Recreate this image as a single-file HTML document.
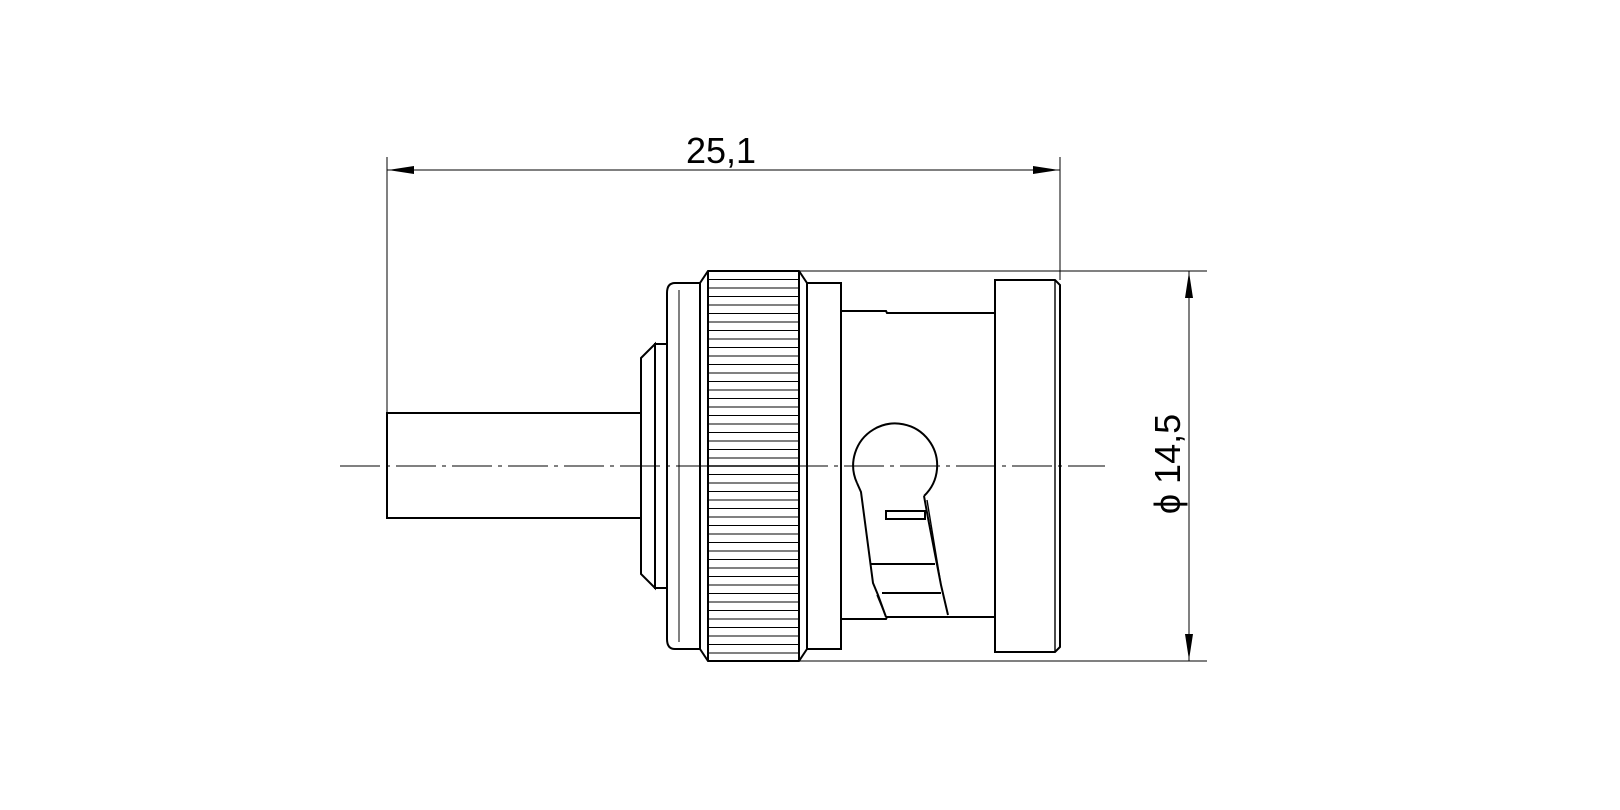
<!DOCTYPE html>
<html><head><style>html,body{margin:0;padding:0;background:#fff}svg{display:block}</style></head>
<body>
<svg width="1620" height="810" viewBox="0 0 1620 810" xmlns="http://www.w3.org/2000/svg">
<g fill="none" stroke="#000" stroke-width="1.4">
<!-- dimension top -->
<line x1="387" y1="157" x2="387" y2="413" stroke-width="1"/>
<line x1="1060" y1="157" x2="1060" y2="280" stroke-width="1"/>
<line x1="387" y1="170" x2="1060" y2="170" stroke-width="1"/>
<!-- right dimension -->
<line x1="800" y1="271" x2="1207" y2="271" stroke-width="1"/>
<line x1="800" y1="661" x2="1207" y2="661" stroke-width="1"/>
<line x1="1189" y1="271" x2="1189" y2="661" stroke-width="1"/>
<!-- cable -->
<polyline points="641,413 387,413 387,518 641,518" stroke-width="2"/>
<!-- chamfered piece -->
<polygon points="641,358 655,344 655,588 641,574" stroke-width="2"/>
<rect x="655" y="344" width="12" height="244" stroke-width="2"/>
<!-- rounded flange -->
<path d="M700,283 L675,283 Q667,283 667,293 L667,639 Q667,649 675,649 L700,649 Z" stroke-width="2"/>
<line x1="679" y1="290" x2="679" y2="642" stroke-width="1"/>
<!-- nut -->
<polygon points="708,271 799,271 807,283 807,649 799,661 708,661 700,649 700,283" stroke-width="2"/>
<line x1="708" y1="271" x2="708" y2="661" stroke-width="2"/>
<line x1="799" y1="271" x2="799" y2="661" stroke-width="2"/>
<!-- flange after nut -->
<rect x="807" y="283" width="34" height="366" stroke-width="2"/>
<!-- body -->
<polyline points="841,311 886,311 887,313 995,313" stroke-width="2"/>
<polyline points="841,619 886,619 887,617 995,617" stroke-width="2"/>
<!-- end ring -->
<path d="M995,280 L1055,280 L1060,285 L1060,647 L1055,652 L995,652 Z" stroke-width="2"/>
<line x1="1055" y1="280" x2="1055" y2="652" stroke-width="1.4"/>
<!-- bayonet slot -->
<path d="M857,483 A42,42 0 1 1 924,496" stroke-width="2"/>
<polyline points="857,483 861,492 873,583 878,595 886,617" stroke-width="2"/>
<polyline points="924,496 928,518 941,585 948,615" stroke-width="2"/>
<line x1="927" y1="500" x2="941" y2="585" stroke-width="1.4"/>
<line x1="870" y1="564" x2="935" y2="564" stroke-width="2"/>
<line x1="882" y1="593" x2="941" y2="593" stroke-width="2"/>
<line x1="877" y1="595" x2="886" y2="617" stroke-width="1.4"/>
<rect x="886" y="511" width="39" height="8" stroke-width="2"/>
<!-- centerline -->
<line x1="340" y1="466" x2="1105" y2="466" stroke-width="1" stroke-dasharray="40,6,4,6"/>
</g>
<!-- knurl lines -->
<g stroke="#000" stroke-width="1">
<line x1="708" y1="279.5" x2="799" y2="279.5"/><line x1="708" y1="288" x2="799" y2="288"/><line x1="708" y1="296.5" x2="799" y2="296.5"/><line x1="708" y1="305" x2="799" y2="305"/><line x1="708" y1="313.5" x2="799" y2="313.5"/><line x1="708" y1="322" x2="799" y2="322"/><line x1="708" y1="330.5" x2="799" y2="330.5"/><line x1="708" y1="339" x2="799" y2="339"/><line x1="708" y1="347.5" x2="799" y2="347.5"/><line x1="708" y1="356" x2="799" y2="356"/><line x1="708" y1="364.5" x2="799" y2="364.5"/><line x1="708" y1="373" x2="799" y2="373"/><line x1="708" y1="381.5" x2="799" y2="381.5"/><line x1="708" y1="390" x2="799" y2="390"/><line x1="708" y1="398.5" x2="799" y2="398.5"/><line x1="708" y1="407" x2="799" y2="407"/><line x1="708" y1="415.5" x2="799" y2="415.5"/><line x1="708" y1="424" x2="799" y2="424"/><line x1="708" y1="432.5" x2="799" y2="432.5"/><line x1="708" y1="441" x2="799" y2="441"/><line x1="708" y1="449.5" x2="799" y2="449.5"/><line x1="708" y1="458" x2="799" y2="458"/><line x1="708" y1="466" x2="799" y2="466" stroke-width="1.6"/><line x1="708" y1="474.5" x2="799" y2="474.5"/><line x1="708" y1="483" x2="799" y2="483"/><line x1="708" y1="491.5" x2="799" y2="491.5"/><line x1="708" y1="500" x2="799" y2="500"/><line x1="708" y1="508.5" x2="799" y2="508.5"/><line x1="708" y1="517" x2="799" y2="517"/><line x1="708" y1="525.5" x2="799" y2="525.5"/><line x1="708" y1="534" x2="799" y2="534"/><line x1="708" y1="542.5" x2="799" y2="542.5"/><line x1="708" y1="551" x2="799" y2="551"/><line x1="708" y1="559.5" x2="799" y2="559.5"/><line x1="708" y1="568" x2="799" y2="568"/><line x1="708" y1="576.5" x2="799" y2="576.5"/><line x1="708" y1="585" x2="799" y2="585"/><line x1="708" y1="593.5" x2="799" y2="593.5"/><line x1="708" y1="602" x2="799" y2="602"/><line x1="708" y1="610.5" x2="799" y2="610.5"/><line x1="708" y1="619" x2="799" y2="619"/><line x1="708" y1="627.5" x2="799" y2="627.5"/><line x1="708" y1="636" x2="799" y2="636"/><line x1="708" y1="644.5" x2="799" y2="644.5"/><line x1="708" y1="653" x2="799" y2="653"/>
</g>
<!-- arrowheads -->
<g fill="#000">
<polygon points="388,170 414,166 414,174"/>
<polygon points="1059,170 1033,166 1033,174"/>
<polygon points="1189,272 1185,298 1193,298"/>
<polygon points="1189,660 1185,634 1193,634"/>
</g>
<text x="721" y="163" font-family="Liberation Sans, sans-serif" font-size="36" text-anchor="middle">25,1</text>
<text transform="translate(1180,464) rotate(-90)" font-family="Liberation Sans, DejaVu Sans, sans-serif" font-size="36" text-anchor="middle">ϕ 14,5</text>
</svg>
</body></html>
